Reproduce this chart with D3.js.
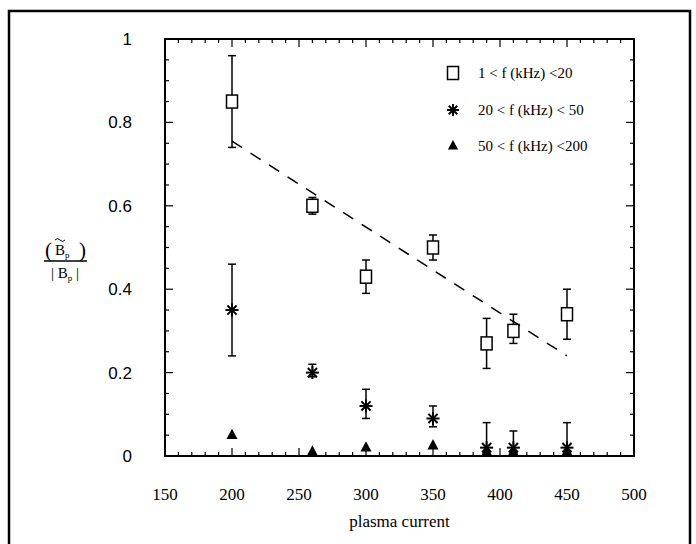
<!DOCTYPE html>
<html>
<head>
<meta charset="utf-8">
<script src="https://cdn.jsdelivr.net/npm/d3@7"></script>
<style>
  body { margin: 0; background: #fff; }
  svg { display: block; }
  .serif { font-family: "Liberation Serif", "DejaVu Serif", serif; }
  .sans { font-family: "Liberation Sans", Arial, sans-serif; }
</style>
</head>
<body>
<svg class="canvas" width="696" height="544"></svg>
<script>
// plasma current values where each band was measured
var current = [200, 260, 300, 350, 390, 410, 450];

// 1 < f < 20 kHz
var lowVal = [0.85, 0.60, 0.43, 0.50, 0.27, 0.30, 0.34];
var lowLo  = [0.74, 0.58, 0.39, 0.47, 0.21, 0.27, 0.28];
var lowHi  = [0.96, 0.62, 0.47, 0.53, 0.33, 0.34, 0.40];

// 20 < f < 50 kHz
var midVal = [0.35, 0.20, 0.12, 0.09, 0.02, 0.02, 0.02];
var midLo  = [0.24, 0.19, 0.09, 0.07, 0.00, 0.00, 0.00];
var midHi  = [0.46, 0.22, 0.16, 0.12, 0.08, 0.06, 0.08];

// 50 < f < 200 kHz
var highVal = [0.05, 0.01, 0.02, 0.025, 0.01, 0.01, 0.01];

// dashed trend line
var trendX = [200, 450];
var trendY = [0.755, 0.24];

var xTicks = [150, 200, 250, 300, 350, 400, 450, 500];
var yTicks = [0, 0.2, 0.4, 0.6, 0.8, 1];
var legendLabels = ["1 < f (kHz) <20", "20 < f (kHz) < 50", "50 < f (kHz) <200"];

var svg = d3.select('.canvas');

var pLeft = 165, pRight = 634, pTop = 39, pBottom = 456;

var x = d3.scaleLinear().domain([150, 500]).range([pLeft, pRight]);
var y = d3.scaleLinear().domain([0, 1]).range([pBottom, pTop]);

// outer frame
svg.append("path")
    .attr("d", "M9,544 V11 H690 V544")
    .attr("fill", "none")
    .attr("stroke", "#000")
    .attr("stroke-width", 2.5);

// plot box
svg.append("rect")
    .attr("x", pLeft).attr("y", pTop)
    .attr("width", pRight - pLeft).attr("height", pBottom - pTop)
    .attr("fill", "none").attr("stroke", "#000").attr("stroke-width", 2);

// ticks on all four sides, pointing inward
var g = svg.append("g").attr("stroke", "#000").attr("stroke-width", 1.2);
d3.range(150, 501, 10).forEach(function(v) {
    var len = v % 50 === 0 ? 8 : 4;
    g.append("line").attr("x1", x(v)).attr("x2", x(v)).attr("y1", pBottom).attr("y2", pBottom - len);
    g.append("line").attr("x1", x(v)).attr("x2", x(v)).attr("y1", pTop).attr("y2", pTop + len);
});
d3.range(0, 21).forEach(function(i) {
    var v = i * 0.05;
    var len = i % 4 === 0 ? 8 : 4;
    g.append("line").attr("x1", pLeft).attr("x2", pLeft + len).attr("y1", y(v)).attr("y2", y(v));
    g.append("line").attr("x1", pRight).attr("x2", pRight - len).attr("y1", y(v)).attr("y2", y(v));
});

// tick labels
svg.selectAll(".xl").data(xTicks).enter().append("text")
    .attr("class", "serif")
    .attr("x", function(d) { return x(d); })
    .attr("y", pBottom + 44)
    .attr("text-anchor", "middle")
    .attr("font-size", 17)
    .text(function(d) { return d; });

svg.selectAll(".yl").data(yTicks).enter().append("text")
    .attr("class", "sans")
    .attr("x", pLeft - 33)
    .attr("y", function(d) { return y(d) + 6; })
    .attr("text-anchor", "end")
    .attr("font-size", 17)
    .text(function(d) { return d === 0 ? "0" : d === 1 ? "1" : d3.format(".1f")(d); });

svg.append("text")
    .attr("class", "serif")
    .attr("x", x(325)).attr("y", 527)
    .attr("text-anchor", "middle")
    .attr("font-size", 17)
    .text("plasma current");

// y axis label as a fraction
var yl = svg.append("g").attr("class", "serif");
yl.append("text").attr("x", 45).attr("y", 257).attr("font-size", 21).text("(");
yl.append("text").attr("x", 79).attr("y", 257).attr("font-size", 21).text(")");
var t1 = yl.append("text").attr("x", 55).attr("y", 255).attr("font-size", 15);
t1.append("tspan").text("B");
t1.append("tspan").attr("font-size", 9).attr("dy", 3).text("p");
yl.append("path").attr("d", "M55,240 q2.5,-3 5,0 t5,0")
    .attr("fill", "none").attr("stroke", "#000").attr("stroke-width", 1);
yl.append("line").attr("x1", 44).attr("x2", 87).attr("y1", 261).attr("y2", 261)
    .attr("stroke", "#000").attr("stroke-width", 1.3);
var t2 = yl.append("text").attr("x", 65).attr("y", 278).attr("text-anchor", "middle").attr("font-size", 15);
t2.append("tspan").text("| B");
t2.append("tspan").attr("font-size", 9).attr("dy", 3).text("p");
t2.append("tspan").attr("dy", -3).text(" |");

// dashed trend
svg.append("line")
    .attr("x1", x(trendX[0])).attr("y1", y(trendY[0]))
    .attr("x2", x(trendX[1])).attr("y2", y(trendY[1]))
    .attr("stroke", "#000").attr("stroke-width", 1.5)
    .attr("stroke-dasharray", "12,10");

function errorBars(vals, lo, hi) {
    var eb = svg.append("g").attr("stroke", "#000").attr("stroke-width", 1.5);
    current.forEach(function(c, i) {
        var cx = x(c);
        eb.append("line").attr("x1", cx).attr("x2", cx).attr("y1", y(lo[i])).attr("y2", y(hi[i]));
        [lo[i], hi[i]].forEach(function(v) {
            if (v <= 0) return;
            eb.append("line").attr("x1", cx - 4).attr("x2", cx + 4).attr("y1", y(v)).attr("y2", y(v));
        });
    });
}

errorBars(lowVal, lowLo, lowHi);
errorBars(midVal, midLo, midHi);

function square(gr, cx, cy) {
    gr.append("rect").attr("x", cx - 5.5).attr("y", cy - 6.5).attr("width", 11).attr("height", 13)
        .attr("fill", "#fff").attr("stroke", "#000").attr("stroke-width", 1.5);
}
function star(gr, cx, cy, r) {
    var p = gr.append("g").attr("stroke", "#000").attr("stroke-width", 2);
    [0, 45, 90, 135].forEach(function(a) {
        var rad = a * Math.PI / 180;
        p.append("line")
            .attr("x1", cx - r * Math.cos(rad)).attr("y1", cy - r * Math.sin(rad))
            .attr("x2", cx + r * Math.cos(rad)).attr("y2", cy + r * Math.sin(rad));
    });
}
function tri(gr, cx, cy, s) {
    gr.append("path")
        .attr("d", "M" + cx + "," + (cy - s) + " L" + (cx + s * 0.85) + "," + (cy + s * 0.6) +
            " L" + (cx - s * 0.85) + "," + (cy + s * 0.6) + "Z")
        .attr("fill", "#000");
}

var marks = svg.append("g");
current.forEach(function(c, i) {
    square(marks, x(c), y(lowVal[i]));
    star(marks, x(c), y(midVal[i]), 6.5);
    tri(marks, x(c), y(highVal[i]), 6.5);
});

// legend
var lg = svg.append("g");
var ly = [73, 110, 146];
square(lg, 453, ly[0]);
star(lg, 453, ly[1], 6);
tri(lg, 453, ly[2], 6);
lg.selectAll("text").data(legendLabels).enter().append("text")
    .attr("class", "serif")
    .attr("x", 478)
    .attr("y", function(d, i) { return ly[i] + 5; })
    .attr("font-size", 15)
    .text(function(d) { return d; });
</script>
</body>
</html>
